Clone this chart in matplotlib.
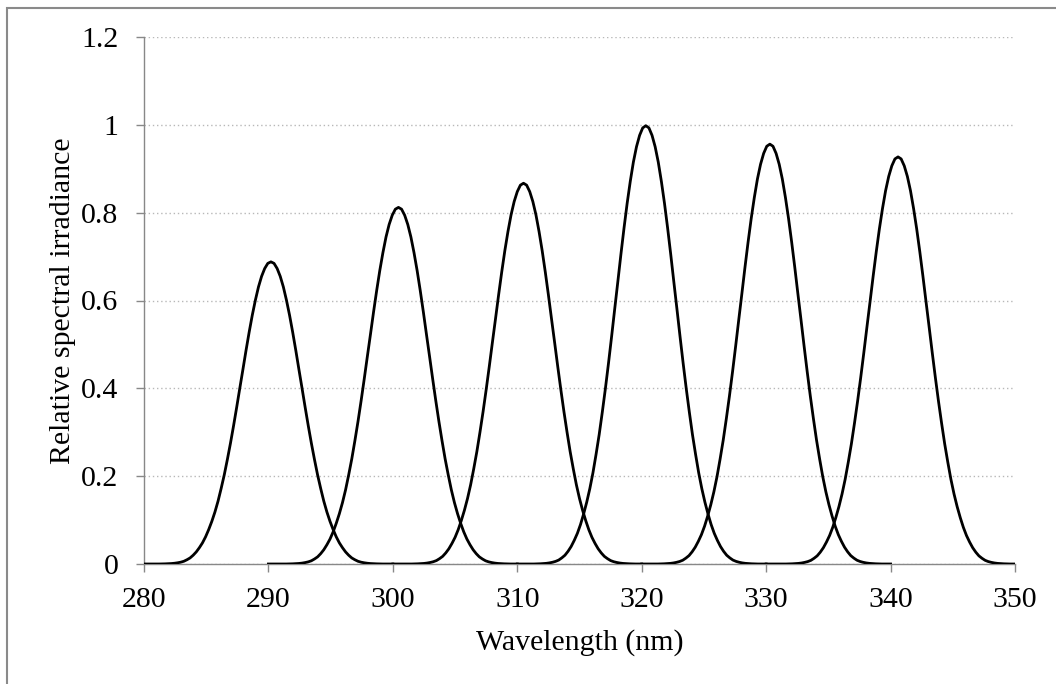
import matplotlib
matplotlib.use("Agg")
import matplotlib.pyplot as plt
from matplotlib.patches import Rectangle

# ---- data ----
centers = [290.2, 300.45, 310.5, 320.33, 330.3, 340.6]   # peak wavelength (nm)
heights = [0.688, 0.812, 0.867, 0.998, 0.956, 0.927]     # peak relative irradiance
starts = [280, 290, 300, 310, 320, 330]                   # first wavelength of each band
ends = [300, 310, 320, 330, 340, 350]                     # last wavelength of each band
# band shape (relative to its peak), read at offsets from the peak centre
half_offsets = [0.0, 0.25, 0.5, 0.75, 1.0, 1.25, 1.5, 1.75, 2.0, 2.25, 2.5, 2.75,
                3.0, 3.25, 3.5, 3.75, 4.0, 4.25, 4.5, 4.75, 5.0, 5.25, 5.5, 5.75,
                6.0, 6.25, 6.5, 6.75, 7.0, 7.25, 7.5, 7.75, 8.0, 8.5, 9.0]
half_profile = [1.000, 0.995, 0.978, 0.952, 0.917, 0.873, 0.823, 0.767, 0.707, 0.644,
                0.582, 0.519, 0.458, 0.400, 0.346, 0.295, 0.250, 0.208, 0.172, 0.141,
                0.114, 0.090, 0.070, 0.054, 0.040, 0.029, 0.020, 0.014, 0.009, 0.006,
                0.004, 0.0025, 0.0015, 0.0005, 0.0]

x_ticks = [280, 290, 300, 310, 320, 330, 340, 350]
y_ticks = [0, 0.2, 0.4, 0.6, 0.8, 1.0, 1.2]
y_ticklabels = ["0", "0.2", "0.4", "0.6", "0.8", "1", "1.2"]

offsets = [-o for o in half_offsets[::-1]] + half_offsets[1:]
profile = half_profile[::-1] + half_profile[1:]

plt.rcParams['font.family'] = ['Liberation Serif', 'DejaVu Serif']
FS = 21.5

fig = plt.figure(figsize=(10.56, 6.84), dpi=100)
ax = fig.add_axes([144 / 1056, 1 - 564 / 684, (1015 - 144) / 1056, (564 - 37) / 684])

for c, h, s, e in zip(centers, heights, starts, ends):
    xs = [s]
    ys = [0.0]
    for o, p in zip(offsets, profile):
        w = c + o
        if s < w < e:
            xs.append(w)
            ys.append(h * p)
    xs.append(e)
    ys.append(0.0)
    ax.plot(xs, ys, color='black', lw=2.0, solid_joinstyle='round', zorder=3)

ax.set_xlim(280, 350)
ax.set_ylim(0, 1.2)
ax.set_xticks(x_ticks)
ax.set_xticklabels([str(t) for t in x_ticks])
ax.set_yticks(y_ticks)
ax.set_yticklabels(y_ticklabels)

for sp in ['top', 'right']:
    ax.spines[sp].set_visible(False)
for sp in ['left', 'bottom']:
    ax.spines[sp].set_color('#888888')
    ax.spines[sp].set_linewidth(1.0)

ax.tick_params(axis='both', direction='out', length=5.8, width=1.0, color='#888888',
               labelsize=FS, labelcolor='black')
ax.tick_params(axis='y', pad=12.5)
ax.tick_params(axis='x', pad=11)

ax.yaxis.grid(True, linestyle=(0, (1, 2)), color='#b8b8b8', linewidth=1.0)
ax.set_axisbelow(True)

ax.set_xlabel("Wavelength (nm)", fontsize=FS, labelpad=11.5)
ax.set_ylabel("Relative spectral irradiance", fontsize=FS, labelpad=4)

# outer chart border (extends past right and bottom edges)
fig.patches.append(Rectangle((7 / 1056, -0.05), 1.1, (684 - 8) / 684 + 0.05,
                             transform=fig.transFigure, fill=False,
                             edgecolor='#8a8a8a', linewidth=1.5, clip_on=False))

fig.savefig("out.png", dpi=100)
